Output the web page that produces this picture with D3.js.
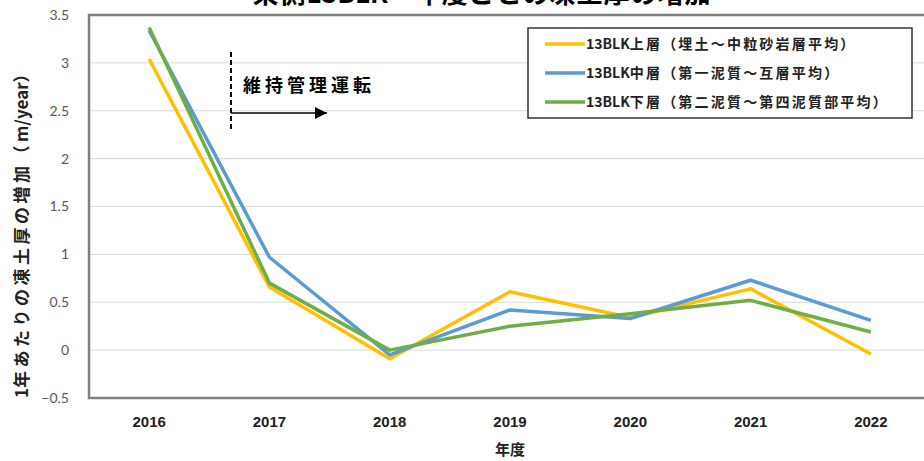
<!DOCTYPE html>
<html>
<head>
<meta charset="utf-8">
<script src="https://cdn.jsdelivr.net/npm/d3@7"></script>
<style>
  body { margin: 0; background: #fff; }
  svg { display: block; font-family: "Noto Sans CJK JP", "Noto Sans", sans-serif; }
</style>
</head>
<body>
<svg id="chart" width="924" height="461"></svg>
<script>
// data
var years = ["2016", "2017", "2018", "2019", "2020", "2021", "2022"];
var upper = [3.04, 0.66, -0.09, 0.61, 0.34, 0.64, -0.04];   // 上層
var middle = [3.34, 0.97, -0.05, 0.42, 0.33, 0.73, 0.31];   // 中層
var lower = [3.37, 0.70, 0.00, 0.25, 0.38, 0.52, 0.19];     // 下層
var seriesNames = ["13BLK上層（埋土～中粒砂岩層平均）", "13BLK中層（第一泥質～互層平均）", "13BLK下層（第二泥質～第四泥質部平均）"];
var seriesColors = ["#FFC000", "#5B9BD5", "#70AD47"];
var yTicks = [-0.5, 0, 0.5, 1, 1.5, 2, 2.5, 3, 3.5];

var series = [upper, middle, lower];

var svg = d3.select("#chart");
var margin = {top: 15, right: -7, bottom: 63, left: 89};
var width = 924 - margin.left - margin.right;
var height = 461 - margin.top - margin.bottom;

var xScale = d3.scaleBand().domain(years).range([margin.left, margin.left + width]);
var yScale = d3.scaleLinear().domain([-0.5, 3.5]).range([margin.top + height, margin.top]);

// the original font spaces the japanese glyphs wider, latin letters stay tight
function spacedText(sel, str, spacing) {
    var runs = str.match(/[\x00-\x7F]+|[^\x00-\x7F]+/g);
    runs.forEach(function(r) {
        var ascii = /^[\x00-\x7F]+$/.test(r);
        sel.append("tspan")
            .style("letter-spacing", ascii ? "0px" : spacing + "px")
            .text(r);
    });
}

// gridlines
svg.append("g")
    .selectAll("line")
    .data(yTicks)
    .enter()
    .append("line")
    .attr("x1", margin.left)
    .attr("x2", margin.left + width)
    .attr("y1", d => yScale(d))
    .attr("y2", d => yScale(d))
    .attr("stroke", "#d9d9d9")
    .attr("stroke-width", 1);

// y axis labels
var yAxis = d3.axisLeft(yScale).tickValues(yTicks).tickSize(0).tickPadding(20)
    .tickFormat(d => d3.format("")(d));
var yG = svg.append("g")
    .attr("transform", "translate(" + margin.left + ",0)")
    .call(yAxis);
yG.select(".domain").remove();
yG.selectAll("text")
    .attr("fill", "#595959")
    .style("font-family", "Lato, 'Open Sans', sans-serif")
    .style("font-size", "14px");

// x axis labels
var xAxis = d3.axisBottom(xScale).tickSize(0).tickPadding(18);
var xG = svg.append("g")
    .attr("transform", "translate(0," + (margin.top + height) + ")")
    .call(xAxis);
xG.select(".domain").remove();
xG.selectAll("text")
    .attr("fill", "#222")
    .style("font-family", "'Liberation Sans Narrow', 'Liberation Sans', sans-serif")
    .style("font-weight", "bold")
    .style("font-size", "15px");

// lines
var line = d3.line()
    .x((d, i) => xScale(years[i]) + xScale.bandwidth() / 2)
    .y(d => yScale(d));

svg.append("g")
    .selectAll("path")
    .data(series)
    .enter()
    .append("path")
    .attr("d", d => line(d))
    .attr("fill", "none")
    .attr("stroke", (d, i) => seriesColors[i])
    .attr("stroke-width", 3.5)
    .attr("stroke-linejoin", "round");

// plot frame
svg.append("rect")
    .attr("x", margin.left)
    .attr("y", margin.top)
    .attr("width", width)
    .attr("height", height)
    .attr("fill", "none")
    .attr("stroke", "#7f7f7f")
    .attr("stroke-width", 2.5);

// title (cut off at top in the original)
var title = svg.append("text")
    .attr("x", 482)
    .attr("y", 3)
    .attr("text-anchor", "middle")
    .style("font-size", "26px")
    .style("font-weight", "bold");
spacedText(title, "東側13BLK　年度ごとの凍土厚の増加", 1);

// axis titles
var yTitle = svg.append("text")
    .attr("transform", "translate(28,230) rotate(-90)")
    .attr("text-anchor", "middle")
    .style("font-size", "17px")
    .style("font-weight", "bold")
    .attr("fill", "#222");
spacedText(yTitle, "1年あたりの凍土厚の増加（m/year）", 3.5);

svg.append("text")
    .attr("x", 510)
    .attr("y", 455)
    .attr("text-anchor", "middle")
    .style("font-size", "15px")
    .style("font-weight", "bold")
    .attr("fill", "#222")
    .text("年度");

// annotation: 維持管理運転
var annX = 231;
svg.append("line")
    .attr("x1", annX).attr("x2", annX)
    .attr("y1", 52).attr("y2", 129)
    .attr("stroke", "#000")
    .attr("stroke-width", 2)
    .attr("stroke-dasharray", "5,3");

svg.append("defs").append("marker")
    .attr("id", "arrow")
    .attr("viewBox", "0 0 10 10")
    .attr("refX", 10).attr("refY", 5)
    .attr("markerWidth", 15).attr("markerHeight", 12)
    .attr("markerUnits", "userSpaceOnUse")
    .attr("orient", "auto")
    .append("path")
    .attr("d", "M0,0 L10,5 L0,10 Z")
    .attr("fill", "#000");

svg.append("line")
    .attr("x1", annX).attr("x2", 327)
    .attr("y1", 113).attr("y2", 113)
    .attr("stroke", "#000")
    .attr("stroke-width", 1.5)
    .attr("marker-end", "url(#arrow)");

svg.append("text")
    .attr("x", 243)
    .attr("y", 92)
    .style("font-size", "18px")
    .style("font-weight", "bold")
    .style("letter-spacing", "4px")
    .text("維持管理運転");

// legend
var legend = svg.append("g").attr("transform", "translate(528,28)");
legend.append("rect")
    .attr("width", 384)
    .attr("height", 90)
    .attr("fill", "#fff")
    .attr("stroke", "#333")
    .attr("stroke-width", 1.5);

var items = legend.selectAll("g.item")
    .data(seriesNames)
    .enter()
    .append("g")
    .attr("class", "item")
    .attr("transform", (d, i) => "translate(0," + (16 + i * 29) + ")");

items.append("line")
    .attr("x1", 17).attr("x2", 57)
    .attr("y1", 0).attr("y2", 0)
    .attr("stroke", (d, i) => seriesColors[i])
    .attr("stroke-width", 3.5);

items.append("text")
    .attr("x", 58)
    .attr("y", 5)
    .style("font-size", "14px")
    .style("font-weight", "bold")
    .attr("fill", "#222")
    .each(function(d) { spacedText(d3.select(this), d, 2.2); });
</script>
</body>
</html>
